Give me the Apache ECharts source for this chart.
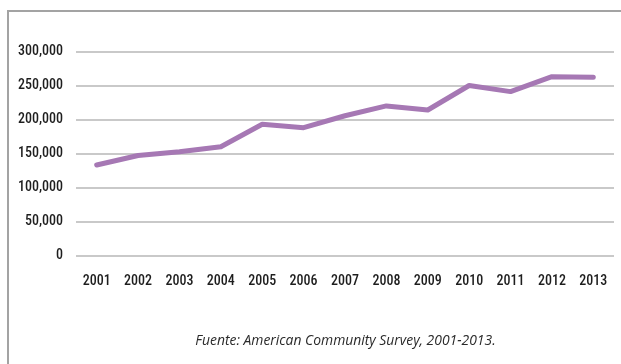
<!DOCTYPE html>
<html>
<head>
<meta charset="utf-8">
<script src="https://cdn.jsdelivr.net/npm/echarts@6/dist/echarts.min.js"></script>
<style>
  html, body { margin: 0; padding: 0; background: #ffffff; }
  #chart { width: 621px; height: 364px; }
</style>
</head>
<body>
<div id="chart"></div>
<script>
// Hispanic population by year, 2001-2013
const years = ['2001', '2002', '2003', '2004', '2005', '2006', '2007',
               '2008', '2009', '2010', '2011', '2012', '2013'];
const population = [133000, 147000, 152500, 160000, 193000, 188000, 205500,
                    220000, 214000, 250000, 241000, 263000, 262000];
const sourceNote = 'Fuente: American Community Survey, 2001-2013.';

const labelFont = "'Roboto Condensed', 'Liberation Sans Narrow', Roboto, sans-serif";

const chart = echarts.init(document.getElementById('chart'), null, { renderer: 'canvas' });

chart.setOption({
  backgroundColor: '#ffffff',
  animation: false,
  grid: { left: 76, right: 7, top: 51.5, bottom: 108.5, containLabel: false },
  xAxis: {
    type: 'category',
    data: years,
    boundaryGap: true,
    axisLine: { show: false },
    axisTick: { show: false },
    axisLabel: {
      margin: 19,
      color: '#1e1e1e',
      fontFamily: labelFont,
      fontSize: 14,
      fontWeight: 500,
      interval: 0
    }
  },
  yAxis: {
    type: 'value',
    min: 0,
    max: 300000,
    interval: 50000,
    axisLine: { show: false },
    axisTick: { show: false },
    axisLabel: {
      margin: 13,
      color: '#1e1e1e',
      fontFamily: labelFont,
      fontSize: 14,
      fontWeight: 500,
      formatter: v => v.toLocaleString('en-US')
    },
    splitLine: { lineStyle: { color: '#c9c9c9', width: 2 } }
  },
  series: [{
    type: 'line',
    data: population,
    symbol: 'none',
    lineStyle: { color: '#a678b4', width: 5, cap: 'round', join: 'round' }
  }],
  graphic: [
    {
      type: 'rect',
      shape: { x: 8, y: 11, width: 640, height: 400 },
      style: { fill: 'none', stroke: '#a3a3a3', lineWidth: 2 },
      silent: true
    },
    {
      type: 'text',
      x: 345.5,
      y: 341,
      style: {
        text: sourceNote,
        align: 'center',
        verticalAlign: 'middle',
        fill: '#2a2a2a',
        font: "italic 13.9px 'Open Sans', 'Liberation Sans', sans-serif"
      }
    }
  ]
});
</script>
</body>
</html>
